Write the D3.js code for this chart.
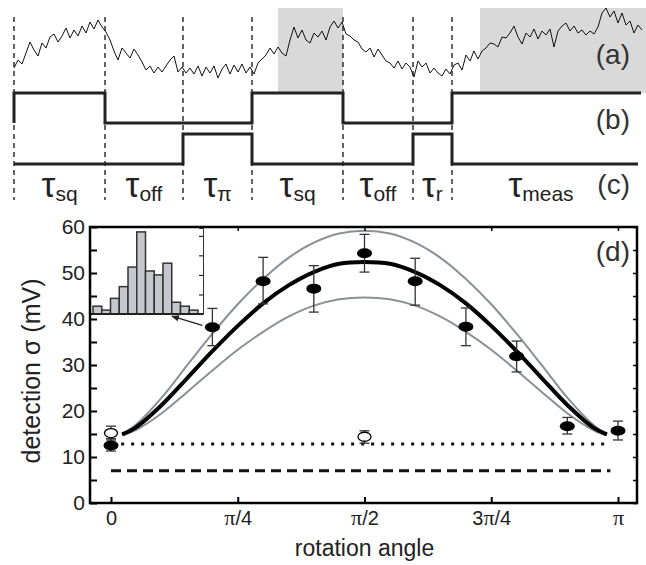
<!DOCTYPE html>
<html>
<head>
<meta charset="utf-8">
<script src="https://cdn.jsdelivr.net/npm/d3@7"></script>
<style>
  body { margin: 0; background: #fff; }
  svg { font-family: "Liberation Sans", Arial, sans-serif; }
</style>
</head>
<body>
<svg id="chart" width="646" height="565"></svg>
<script>
// ---- timing diagram data (time in sample units) ----
let traceV = [32,40,36,47,58,50,44,57,52,63,
  66,58,64,72,62,70,64,74,67,78,
  71,80,73,68,60,49,40,52,47,42,
  51,45,38,30,34,27,33,28,34,40,
  44,28,33,27,32,26,34,24,33,27,
  34,22,31,36,26,35,28,36,27,33,
  26,37,41,45,52,46,53,47,44,60,
  73,62,70,60,57,67,63,69,60,73,
  79,72,78,66,64,60,58,51,48,52,
  43,51,45,39,37,32,39,31,37,33,
  23,39,33,37,27,32,27,24,31,26,
  35,37,30,45,39,49,41,49,52,57,
  56,53,63,62,67,74,63,56,67,63,
  71,61,69,65,71,53,69,74,77,69,
  74,67,70,65,69,66,73,87,92,83,
  89,77,87,75,79,67,75,70];
let boundaries = [0, 22.75, 42.25, 59.5, 82.25, 99.75, 109.5];
let shaded = [[66, 82.25], [116.5, 158]];
let seqB = [[0, 1], [22.75, 0], [59.5, 1], [82.25, 0], [109.5, 1], [156.75, 1]];
let seqC = [[0, 0], [42.25, 1], [59.5, 0], [99.75, 1], [109.5, 0], [156, 0]];
let tauLabels = [
  {t: 11.4, sub: 'sq'}, {t: 32.5, sub: 'off'}, {t: 50.9, sub: 'π'}, {t: 70.9, sub: 'sq'},
  {t: 91, sub: 'off'}, {t: 104.6, sub: 'r'}, {t: 131.75, sub: 'meas'}
];

// ---- panel (d) data, angles in units of pi ----
let angles = [0, 0.2, 0.3, 0.4, 0.5, 0.6, 0.7, 0.8, 0.9, 1.0];
let sigma  = [12.5, 38.2, 48.2, 46.6, 54.3, 48.2, 38.3, 31.9, 16.7, 15.7];
let errLo  = [11.3, 34.2, 43.3, 41.5, 50.2, 43.0, 34.2, 28.5, 15.0, 13.7];
let errHi  = [14.0, 42.3, 53.4, 51.6, 58.4, 53.2, 42.4, 35.2, 18.6, 17.8];

let openAngles = [0, 0.5];
let openSigma  = [15.2, 14.4];
let openLo     = [13.7, 13.0];
let openHi     = [16.7, 15.7];

let fitAngles = [0.022, 0.05, 0.1, 0.15, 0.2, 0.25, 0.3, 0.35, 0.4, 0.45, 0.5, 0.55, 0.6, 0.65, 0.7, 0.75, 0.8, 0.85, 0.9, 0.95, 0.978];
let fitMid  = [14.9, 16.5, 21.3, 27.1, 33.0, 38.5, 43.4, 47.3, 50.2, 52.0, 52.4, 52.0, 50.2, 47.3, 43.4, 38.5, 33.0, 27.1, 21.3, 16.5, 14.9];
let fitHigh = [14.9, 17.1, 22.9, 29.9, 36.8, 43.2, 48.7, 53.3, 56.6, 58.6, 59.2, 58.6, 56.6, 53.3, 48.7, 43.2, 36.8, 29.9, 22.9, 17.1, 14.9];
let fitLow  = [14.7, 15.9, 19.5, 24.1, 28.8, 33.3, 37.2, 40.5, 42.9, 44.3, 44.7, 44.3, 42.9, 40.5, 37.2, 33.3, 28.8, 24.1, 19.5, 15.9, 14.7];

let noiseLevel = 12.8;   // dotted
let shotLevel = 7.0;     // dashed
let histCounts = [2, 1, 4, 7, 12, 21, 11, 10, 13, 3, 2, 1];

let xTickVals = [0, 0.25, 0.5, 0.75, 1];
let xTickLabels = ['0', 'π/4', 'π/2', '3π/4', 'π'];
let yTickVals = d3.range(0, 61, 5);

let svg = d3.select('#chart');

//==================== top: timing diagram ====================
let tScale = d3.scaleLinear().domain([0, 157]).range([14, 642]);
let traceY = d3.scaleLinear().domain([0, 100]).range([100, 0]);
let bY = d3.scaleLinear().domain([0, 1]).range([123, 93]);
let cY = d3.scaleLinear().domain([0, 1]).range([164, 134]);

svg.append('g').selectAll('rect')
  .data(shaded)
  .join('rect')
  .attr('x', d => tScale(d[0]))
  .attr('y', 8)
  .attr('width', d => Math.min(646, tScale(d[1])) - tScale(d[0]))
  .attr('height', 93 - 8)
  .attr('fill', '#d9d9d9');

svg.append('g').selectAll('line')
  .data(boundaries)
  .join('line')
  .attr('x1', d => tScale(d)).attr('x2', d => tScale(d))
  .attr('y1', 17).attr('y2', 200)
  .attr('stroke', '#222')
  .attr('stroke-width', 1.4)
  .attr('stroke-dasharray', '5,4');

svg.append('path')
  .datum(traceV)
  .attr('fill', 'none')
  .attr('stroke', '#111')
  .attr('stroke-width', 1)
  .attr('d', d3.line().x((d, i) => tScale(i)).y(d => traceY(d)));

let stepLine = (yS) => d3.line().x(d => tScale(d[0])).y(d => yS(d[1])).curve(d3.curveStepAfter);

svg.append('path')
  .datum([[0, 0]].concat(seqB))
  .attr('fill', 'none').attr('stroke', '#222').attr('stroke-width', 3)
  .attr('d', stepLine(bY));

svg.append('path')
  .datum(seqC)
  .attr('fill', 'none').attr('stroke', '#222').attr('stroke-width', 3)
  .attr('d', stepLine(cY));

let tau = svg.append('g').selectAll('text')
  .data(tauLabels)
  .join('text')
  .attr('x', d => tScale(d.t))
  .attr('y', 197)
  .attr('text-anchor', 'middle')
  .attr('font-size', 35)
  .attr('fill', '#222');
tau.append('tspan').text('τ');
tau.append('tspan').attr('font-size', 21).attr('dy', 4).text(d => d.sub);

let panelLabels = [['(a)', 64], ['(b)', 129], ['(c)', 194], ['(d)', 261]];
svg.append('g').selectAll('text')
  .data(panelLabels)
  .join('text')
  .attr('x', 630).attr('y', d => d[1])
  .attr('text-anchor', 'end')
  .attr('font-size', 28)
  .attr('fill', '#333')
  .text(d => d[0]);

//==================== bottom: panel (d) ====================
let pLeft = 90, pRight = 637, pTop = 227, pBottom = 503;
let xScale = d3.scaleLinear().domain([0, 1]).range([111, 618]);
let yScale = d3.scaleLinear().domain([0, 60]).range([pBottom, pTop]);

// reference lines
svg.append('line')
  .attr('x1', xScale(0.02)).attr('x2', xScale(0.975))
  .attr('y1', yScale(noiseLevel)).attr('y2', yScale(noiseLevel))
  .attr('stroke', '#111').attr('stroke-width', 3)
  .attr('stroke-dasharray', '3,7');
svg.append('line')
  .attr('x1', xScale(0)).attr('x2', xScale(0.985))
  .attr('y1', yScale(shotLevel)).attr('y2', yScale(shotLevel))
  .attr('stroke', '#111').attr('stroke-width', 3)
  .attr('stroke-dasharray', '10,6');

// fitted curves
let fitLine = (vals) => d3.line()
  .x((d, i) => xScale(fitAngles[i]))
  .y(d => yScale(d))
  .curve(d3.curveCatmullRom)(vals);

svg.append('path').attr('d', fitLine(fitHigh)).attr('fill', 'none').attr('stroke', '#8a9096').attr('stroke-width', 2);
svg.append('path').attr('d', fitLine(fitLow)).attr('fill', 'none').attr('stroke', '#8a9096').attr('stroke-width', 2);
svg.append('path').attr('d', fitLine(fitMid)).attr('fill', 'none').attr('stroke', '#000').attr('stroke-width', 4);

// error bars
function errorBars(xs, lo, hi) {
  let g = svg.append('g').attr('stroke', '#333').attr('stroke-width', 1.3);
  xs.forEach((a, i) => {
    let x = xScale(a);
    g.append('line').attr('x1', x).attr('x2', x).attr('y1', yScale(lo[i])).attr('y2', yScale(hi[i]));
    g.append('line').attr('x1', x - 5).attr('x2', x + 5).attr('y1', yScale(lo[i])).attr('y2', yScale(lo[i]));
    g.append('line').attr('x1', x - 5).attr('x2', x + 5).attr('y1', yScale(hi[i])).attr('y2', yScale(hi[i]));
  });
}
errorBars(angles, errLo, errHi);
errorBars(openAngles, openLo, openHi);

svg.append('g').selectAll('ellipse')
  .data(angles)
  .join('ellipse')
  .attr('cx', d => xScale(d))
  .attr('cy', (d, i) => yScale(sigma[i]))
  .attr('rx', 7.5).attr('ry', 5)
  .attr('fill', '#000');

svg.append('g').selectAll('ellipse')
  .data(openAngles)
  .join('ellipse')
  .attr('cx', d => xScale(d))
  .attr('cy', (d, i) => yScale(openSigma[i]))
  .attr('rx', 6.5).attr('ry', 4.5)
  .attr('fill', '#fff').attr('stroke', '#000').attr('stroke-width', 1.3);

// arrow from the pi/5 point to the inset
svg.append('defs').append('marker')
  .attr('id', 'head').attr('viewBox', '0 0 10 10')
  .attr('refX', 9).attr('refY', 5)
  .attr('markerWidth', 7).attr('markerHeight', 6)
  .attr('orient', 'auto')
  .append('path').attr('d', 'M0,1 L10,5 L0,9 Z').attr('fill', '#222');
svg.append('line')
  .attr('x1', xScale(0.18)).attr('y1', yScale(38.6))
  .attr('x2', xScale(0.12)).attr('y2', yScale(40.6))
  .attr('stroke', '#222').attr('stroke-width', 1.3)
  .attr('marker-end', 'url(#head)');

// inset histogram
let insetX = d3.scaleBand().domain(d3.range(histCounts.length)).range([93, 198]).padding(0);
let insetY = d3.scaleLinear().domain([0, 22]).range([314, 228]);
svg.append('rect').attr('x', pLeft).attr('y', pTop).attr('width', 203 - pLeft).attr('height', 314 - pTop).attr('fill', '#fff');
svg.append('g').selectAll('rect')
  .data(histCounts)
  .join('rect')
  .attr('x', (d, i) => insetX(i))
  .attr('y', d => insetY(d))
  .attr('width', insetX.bandwidth())
  .attr('height', d => insetY(0) - insetY(d))
  .attr('fill', '#c6c7cc')
  .attr('stroke', '#333')
  .attr('stroke-width', 1.5);
svg.append('g')
  .attr('transform', 'translate(203,0)')
  .call(d3.axisLeft(insetY).tickValues([5, 10, 15, 20]).tickSize(4).tickFormat(''))
  .call(g => g.select('.domain').attr('stroke', '#333'));
svg.append('line').attr('x1', pLeft).attr('x2', 203).attr('y1', 314).attr('y2', 314)
  .attr('stroke', '#222').attr('stroke-width', 1.8);

// frame + axes
svg.append('rect')
  .attr('x', pLeft).attr('y', pTop).attr('width', pRight - pLeft).attr('height', pBottom - pTop)
  .attr('fill', 'none').attr('stroke', '#000').attr('stroke-width', 2.5);

let yAxis = svg.append('g')
  .attr('transform', `translate(${pLeft},0)`)
  .call(d3.axisLeft(yScale).tickValues(yTickVals).tickSize(-7).tickPadding(5)
    .tickFormat(d => d % 10 === 0 ? d : ''));
yAxis.select('.domain').remove();
yAxis.selectAll('line').attr('stroke-width', 2);
yAxis.selectAll('text').attr('font-size', 21).attr('font-family', 'Liberation Sans, Arial, sans-serif').attr('fill', '#222');

let yAxisR = svg.append('g')
  .attr('transform', `translate(${pRight},0)`)
  .call(d3.axisRight(yScale).tickValues(yTickVals).tickSize(-4).tickFormat(''));
yAxisR.select('.domain').remove();
yAxisR.selectAll('line').attr('stroke-width', 1.5);

let xAxis = svg.append('g')
  .attr('transform', `translate(0,${pBottom})`)
  .call(d3.axisBottom(xScale).tickValues(xTickVals).tickSize(-6).tickPadding(8)
    .tickFormat((d, i) => xTickLabels[i]));
xAxis.select('.domain').remove();
xAxis.selectAll('line').attr('stroke-width', 2);
xAxis.selectAll('text')
  .attr('font-size', 20).attr('font-family', 'Liberation Sans, Arial, sans-serif').attr('fill', '#222')
  .each(function(d, i) {
    let t = d3.select(this);
    let parts = xTickLabels[i].split('π');
    t.text(null);
    parts.forEach((p, j) => {
      if (j > 0) t.append('tspan').attr('font-family', 'Liberation Serif, Times New Roman, serif').attr('font-size', 22).text('π');
      if (p) t.append('tspan').text(p);
    });
  });

let xAxisT = svg.append('g')
  .attr('transform', `translate(0,${pTop})`)
  .call(d3.axisTop(xScale).tickValues(xTickVals.slice(1)).tickSize(-4).tickFormat(''));
xAxisT.select('.domain').remove();
xAxisT.selectAll('line').attr('stroke-width', 1.5);

// axis titles
svg.append('text')
  .attr('transform', 'translate(40,371) rotate(-90)')
  .attr('text-anchor', 'middle')
  .attr('font-size', 25)
  .attr('fill', '#222')
  .text('detection σ (mV)');

svg.append('text')
  .attr('x', xScale(0.5)).attr('y', 556)
  .attr('text-anchor', 'middle')
  .attr('font-size', 23)
  .attr('fill', '#222')
  .text('rotation angle');
</script>
</body>
</html>
